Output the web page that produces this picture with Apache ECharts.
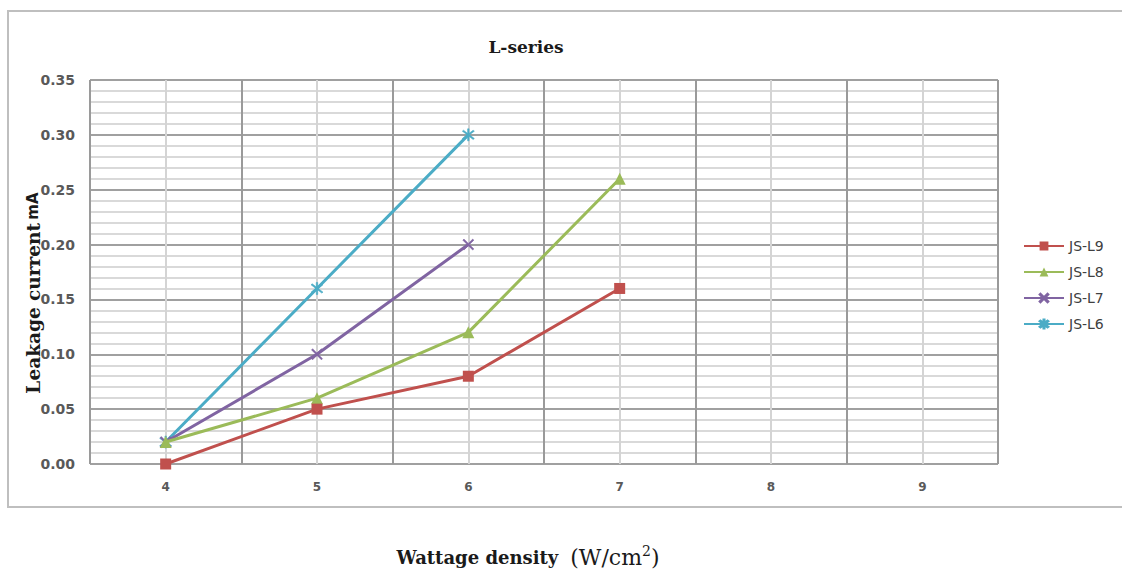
<!DOCTYPE html>
<html>
<head>
<meta charset="utf-8">
<script src="https://cdn.jsdelivr.net/npm/echarts@6/dist/echarts.min.js"></script>
<style>html,body{margin:0;padding:0;background:#fff}#c{width:1122px;height:570px}</style>
</head>
<body>
<div id="c"></div>
<script>
const categories = [4, 5, 6, 7, 8, 9];
const seriesNames = ['JS-L9', 'JS-L8', 'JS-L7', 'JS-L6'];
const valuesL9 = [0.00, 0.05, 0.08, 0.16];
const valuesL8 = [0.02, 0.06, 0.12, 0.26];
const valuesL7 = [0.02, 0.10, 0.20];
const valuesL6 = [0.02, 0.16, 0.30];
const yTicks = ['0.00','0.05','0.10','0.15','0.20','0.25','0.30','0.35'];

const colors = ['#C0504D', '#9BBB59', '#8064A2', '#4BACC6'];
const xShape = 'path://M1,0L5,4L9,0L10,1L6,5L10,9L9,10L5,6L1,10L0,9L4,5L0,1Z';
const starShape = 'path://M1,0L5,4L9,0L10,1L6,5L10,9L9,10L5,6L1,10L0,9L4,5L0,1Z M4.4,-1.5L5.6,-1.5L5.6,11.5L4.4,11.5Z';
const symbols = ['rect', 'triangle', xShape, starShape];
const symbolSizes = [11, 12, 11, 12];
const allValues = [valuesL9, valuesL8, valuesL7, valuesL6];

const chart = echarts.init(document.getElementById('c'), null, {renderer: 'svg'});
const serif = '"DejaVu Serif", serif';
const sans = '"DejaVu Sans", sans-serif';

chart.setOption({
  animation: false,
  color: colors,
  title: [{
    text: 'L-series',
    left: 521, top: 33, textAlign: 'center',
    textStyle: {fontFamily: serif, fontWeight: 'bold', fontSize: 17, color: '#1a1a1a'}
  }],
  grid: {left: 90, right: 124, top: 80, bottom: 106, show: false},
  legend: {
    orient: 'vertical', left: 1018, top: 234,
    itemWidth: 40, itemHeight: 11, itemGap: 12,
    data: seriesNames,
    textStyle: {fontFamily: sans, fontSize: 14, color: '#404040'}
  },
  xAxis: {
    type: 'value', min: 3.5, max: 9.5, interval: 0.5,
    axisLine: {show: false}, axisTick: {show: false},
    axisLabel: {
      margin: 17, fontFamily: sans, fontWeight: 'bold', fontSize: 12, color: '#595959',
      formatter: v => (Number.isInteger(v) && categories.indexOf(v) >= 0) ? String(v) : ''
    },
    splitLine: {show: true, lineStyle: {color: ['#9a9a9a', '#d4d4d4'], width: 2}}
  },
  yAxis: {
    type: 'value', min: 0, max: 0.35, interval: 0.05,
    axisLine: {show: false}, axisTick: {show: false},
    axisLabel: {
      margin: 15, fontFamily: sans, fontWeight: 'bold', fontSize: 14, color: '#595959',
      formatter: v => yTicks[Math.round(v / 0.05)]
    },
    splitLine: {show: true, lineStyle: {color: '#a0a0a0', width: 2}},
    minorTick: {show: false, splitNumber: 5},
    minorSplitLine: {show: true, lineStyle: {color: '#d9d9d9', width: 2}}
  },
  graphic: [
    {type: 'rect', shape: {x: 8, y: 11, width: 1130, height: 496}, style: {fill: 'none', stroke: '#bfbfbf', lineWidth: 2}, z: -1},
    {type: 'text', x: 33, y: 293, rotation: Math.PI / 2,
      style: {text: '{a|Leakage current} {b|mA}', align: 'center', verticalAlign: 'middle',
        rich: {a: {fontFamily: serif, fontWeight: 'bold', fontSize: 18.5, fill: '#1a1a1a'},
               b: {fontFamily: sans, fontWeight: 'bold', fontSize: 15, fill: '#1a1a1a'}}}},
    {type: 'text', x: 528, y: 557,
      style: {text: '{a|Wattage density}{s| }{b|(W/cm}{c|2}{b|)}', align: 'center', verticalAlign: 'middle',
        rich: {a: {fontFamily: serif, fontWeight: 'bold', fontSize: 18, fill: '#1a1a1a'},
               s: {fontFamily: serif, fontSize: 18, width: 12},
               b: {fontFamily: serif, fontSize: 22, fill: '#1a1a1a'},
               c: {fontFamily: serif, fontSize: 14, fill: '#1a1a1a', verticalAlign: 'top', padding: [0,0,12,0]}}}}
  ],
  series: seriesNames.map((name, i) => ({
    name: name,
    type: 'line',
    data: allValues[i].map((v, j) => [categories[j], v]),
    symbol: symbols[i],
    symbolSize: symbolSizes[i],
    lineStyle: {width: 3, color: colors[i]},
    itemStyle: {color: colors[i], borderColor: colors[i], borderWidth: i >= 2 ? 0.6 : 0},
    z: 10 - i
  }))
});
</script>
</body>
</html>
